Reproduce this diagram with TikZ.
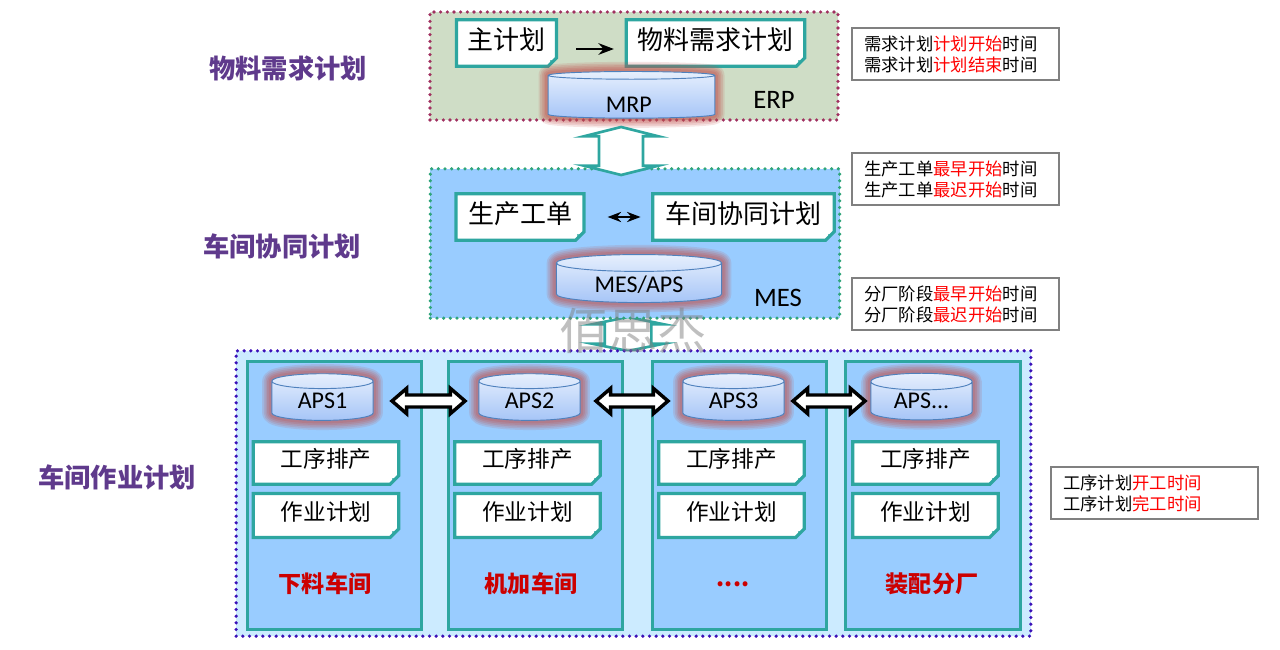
\documentclass[tikz,border=0pt]{standalone}
\usepackage{fontspec}
\setmainfont{Noto Sans CJK SC}
\newfontfamily\latinfont{Carlito}
\usepackage{xcolor}
\usetikzlibrary{positioning, calc, shapes.geometric, shapes.misc, arrows.meta}

\definecolor{tealline}{HTML}{2EA6A0}
\definecolor{erpfill}{HTML}{CFDDC6}
\definecolor{erpdot}{HTML}{A0305F}
\definecolor{mesfill}{HTML}{99CCFF}
\definecolor{mesdot}{HTML}{2FA57A}
\definecolor{shopfill}{HTML}{CCEBFF}
\definecolor{shopdot}{HTML}{3A10B8}
\definecolor{glowred}{HTML}{C0504D}
\definecolor{storeline}{HTML}{4F81BD}
\definecolor{storetop}{HTML}{E6EFFD}
\definecolor{storebot}{HTML}{A6C5F7}
\definecolor{titlepurple}{HTML}{5F3A8C}
\definecolor{shopred}{HTML}{CC0000}

\tikzset{
    zone/.style={line width=2.7pt, dash pattern=on 0pt off 5pt, line cap=round},
    plan/.style={chamfered rectangle, chamfered rectangle corners=south east,
        chamfered rectangle xsep=3.2pt, chamfered rectangle ysep=3.2pt,
        draw=tealline, line width=2.4pt, fill=white, inner sep=0pt, text depth=7pt,
        path picture={\fill[tealline!70] (path picture bounding box.south east)
            -- ++(-5pt,0) -- ++(0,5pt) -- ++(5pt,0) -- cycle;}},
    store/.style={cylinder, shape border rotate=90, draw=storeline, line width=.7pt,
        preaction={draw=glowred, draw opacity=.15, line width=14.5pt, line join=round},
        preaction={draw=glowred, draw opacity=.16, line width=12pt, line join=round},
        preaction={draw=glowred, draw opacity=.18, line width=9.5pt, line join=round},
        preaction={draw=glowred, draw opacity=.20, line width=7pt, line join=round},
        preaction={draw=glowred, draw opacity=.22, line width=4.5pt, line join=round},
        top color=storetop, bottom color=storebot,
        inner sep=0pt, font=\latinfont\fontsize{18}{20}\selectfont},
    info/.style={draw=gray, line width=1.5pt, fill=white, align=left, text width=137pt,
        inner xsep=9pt, minimum height=39pt, font=\fontsize{13}{15.8}\selectfont},
    title/.style={text=titlepurple, font=\bfseries\fontsize{19.7}{22}\selectfont},
    fatlink/.style n args={3}{line join=miter, miter limit=30, to path={
        -- ($(\tikztostart)!#1!(\tikztotarget)!#2!90:(\tikztotarget)$)
        -- ($(\tikztostart)!#1!(\tikztotarget)!#3!90:(\tikztotarget)$)
        -- ($(\tikztotarget)!#1!(\tikztostart)!#3!-90:(\tikztostart)$)
        -- ($(\tikztotarget)!#1!(\tikztostart)!#2!-90:(\tikztostart)$)
        -- (\tikztotarget)
        -- ($(\tikztotarget)!#1!(\tikztostart)!#2!90:(\tikztostart)$)
        -- ($(\tikztotarget)!#1!(\tikztostart)!#3!90:(\tikztostart)$)
        -- ($(\tikztostart)!#1!(\tikztotarget)!#3!-90:(\tikztotarget)$)
        -- ($(\tikztostart)!#1!(\tikztotarget)!#2!-90:(\tikztotarget)$)
        -- cycle}},
}

\begin{document}
\begin{tikzpicture}[x=.75pt, y=-.75pt, >=Stealth]
    \useasboundingbox (0,0) rectangle (1280,649);

    % link behind the zones
    \coordinate (midtop) at (628,317);
    \coordinate (midbot) at (628,351);
    \draw[fatlink={5.5pt}{27pt}{17.5pt}, draw=tealline, line width=2pt, fill=white] (midtop) to (midbot);

    % zones
    \node[zone, draw=erpdot, fill=erpfill, minimum width=306pt, minimum height=81pt] (erp) at (634,66) {};
    \node[zone, draw=mesdot, fill=mesfill, minimum width=307pt, minimum height=112pt] (mes) at (635,243.5) {};
    \node[zone, draw=shopdot, fill=shopfill, minimum width=596pt, minimum height=214pt] (shop) at (633.5,493.5) {};

    % ERP
    \node[plan, minimum width=75pt, minimum height=35pt, font=\fontsize{19.5}{22}\selectfont] (master) at (506.5,43) {主计划};
    \node[plan, minimum width=134pt, minimum height=35pt, font=\fontsize{19.5}{22}\selectfont] (mrpplan) at (715.5,43) {物料需求计划};
    \node[store, aspect=.19, minimum width=125pt, minimum height=35pt] (mrp) at (631.5,97) {\raisebox{-11.5pt}[0pt][0pt]{\hspace*{-4pt}MRP}};
    \node[font=\latinfont\fontsize{20}{22}\selectfont] (erplabel) at (774,100) {ERP};
    \draw[->, line width=1.9pt, shorten <=13.5pt, shorten >=8pt] ([yshift=-4.5pt]master.east) -- ([yshift=-4.5pt]mrpplan.west);

    % MES
    \node[plan, minimum width=96pt, minimum height=35pt, font=\fontsize{19.5}{22}\selectfont] (order) at (520,217) {生产工单};
    \node[plan, minimum width=136pt, minimum height=35pt, font=\fontsize{19.5}{22}\selectfont] (shopplan) at (743.5,217) {车间协同计划};
    \node[store, aspect=.19, minimum width=124pt, minimum height=36pt] (apsmain) at (639,283) {\raisebox{-7pt}[0pt][0pt]{MES/APS}};
    \node[font=\latinfont\fontsize{20}{22}\selectfont] (meslabel) at (778,298) {MES};
    \draw[<->, line width=1.6pt, shorten <=16.5pt, shorten >=8pt] (order.east) -- (shopplan.west);

    \coordinate (erptop) at (621,127);
    \coordinate (erpbot) at (621,175);
    \draw[fatlink={7pt}{28pt}{16.5pt}, draw=tealline, line width=2pt, fill=white] (erptop) to (erpbot);

    % workshops
    \foreach \n/\cx/\nx/\lx/\lab in {1/334.5/326/325/下料车间, 2/535.5/527.5/531/机加车间,
                                     3/739.5/731.5/733/{....}, 4/933/925.5/932/装配分厂} {
        \node[draw=tealline, line width=2.4pt, fill=mesfill, minimum width=131pt, minimum height=201pt] (col\n) at (\cx,495.5) {};
        \node[plan, minimum width=109pt, minimum height=32pt, font=\fontsize{17}{20}\selectfont] (seq\n) at (\nx,463) {工序排产};
        \node[plan, minimum width=109pt, minimum height=33pt, font=\fontsize{17}{20}\selectfont] (job\n) at (\nx,515.5) {作业计划};
        \node[text=shopred, font=\bfseries\fontsize{17.3}{20}\selectfont] (lab\n) at (\lx,584) {\lab};
    }
    \foreach \n/\x/\cyl in {1/322.5/APS1, 2/529.5/APS2, 3/733.5/APS3, 4/921.5/{APS...}}
        \node[store, aspect=.3, minimum width=76pt, minimum height=35pt] (aps\n) at (\x,401) {\raisebox{-2.5pt}{\cyl}};

    % links between the APS stores
    \foreach \a/\b/\xa/\xb in {1/2/392/465, 2/3/596/668, 3/4/793/865} {
        \coordinate (from\a) at (\xa,401);
        \coordinate (to\b) at (\xb,401);
        \draw[fatlink={11pt}{9.5pt}{4.5pt}, draw=black, line width=2.6pt, fill=white] (from\a) to (to\b);
    }

    % plan levels and time notes
    \node[title] (level1) at (288,68) {物料需求计划};
    \node[title] (level2) at (282,246) {车间协同计划};
    \node[title] (level3) at (117,477) {车间作业计划};

    \node[info] (note1) at (955.5,54) {需求计划\textcolor{red}{计划开始}时间\\需求计划\textcolor{red}{计划结束}时间};
    \node[info] (note2) at (955.5,179) {生产工单\textcolor{red}{最早开始}时间\\生产工单\textcolor{red}{最迟开始}时间};
    \node[info] (note3) at (955.5,304) {分厂阶段\textcolor{red}{最早开始}时间\\分厂阶段\textcolor{red}{最迟开始}时间};
    \node[info] (note4) at (1154.5,493) {工序计划\textcolor{red}{开工时间}\\工序计划\textcolor{red}{完工时间}};

    \node[text=gray, text opacity=.5, font=\fontsize{37}{40}\selectfont] (mark) at (633,331) {佰思杰};
\end{tikzpicture}
\end{document}
